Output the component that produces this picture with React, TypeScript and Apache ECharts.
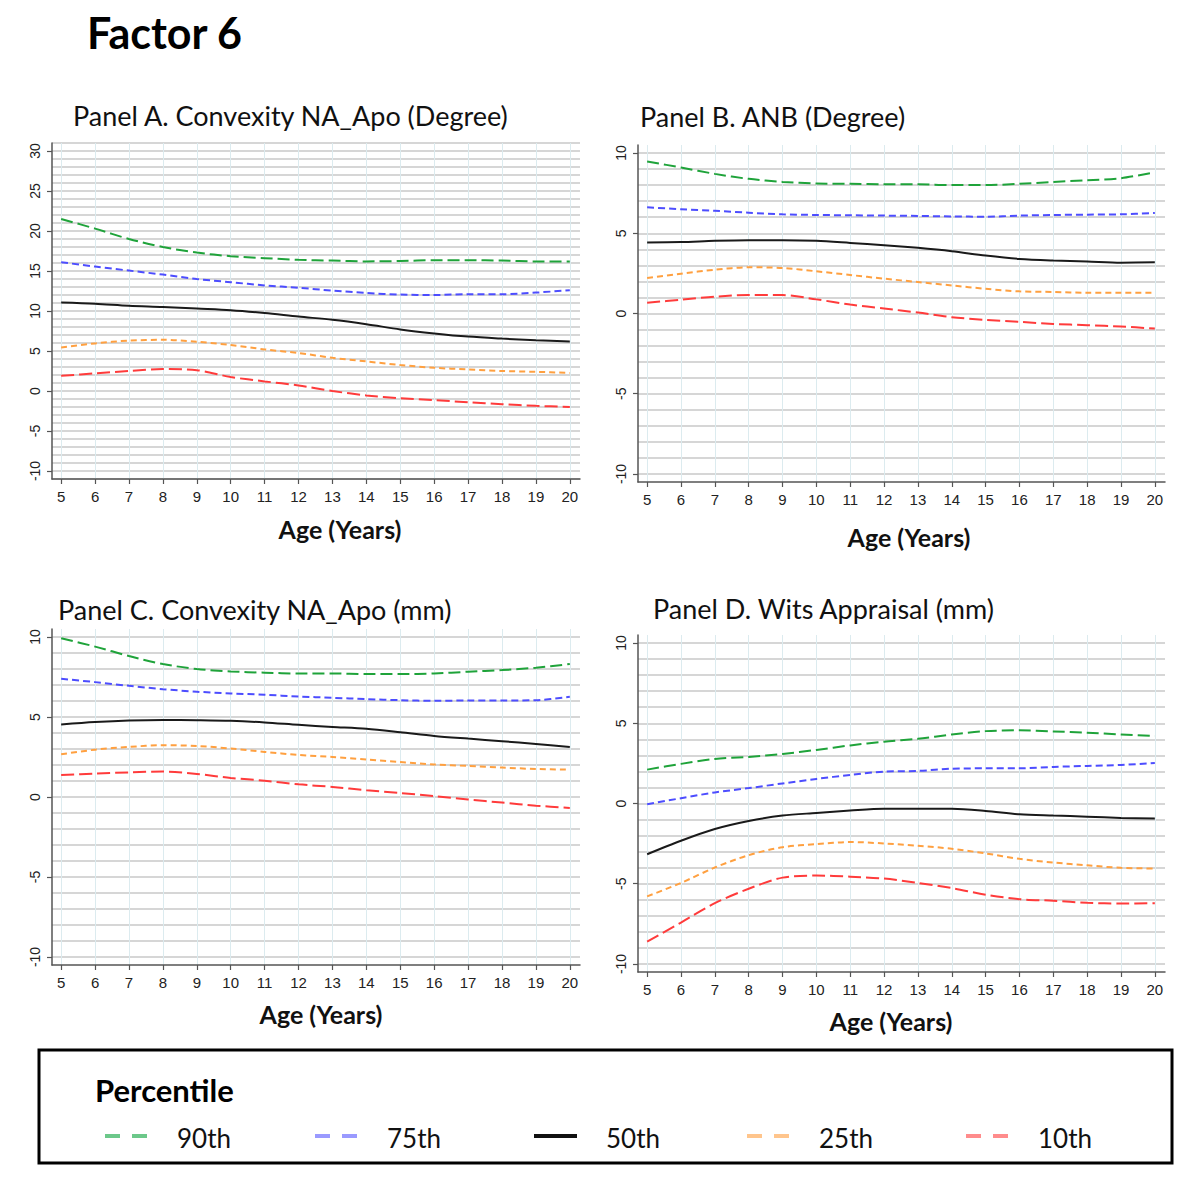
import React, { useEffect, useRef } from 'react';
import * as echarts from 'echarts';

// ---------- data ----------
const ages = [5, 6, 7, 8, 9, 10, 11, 12, 13, 14, 15, 16, 17, 18, 19, 20];
const percentiles = ['90th', '75th', '50th', '25th', '10th'];

// Panel A. Convexity NA_Apo (Degree)
const panelA_p90 = [21.5, 20.3, 19.0, 18.0, 17.3, 16.85, 16.6, 16.4, 16.3, 16.2, 16.25, 16.35, 16.35, 16.3, 16.2, 16.2];
const panelA_p75 = [16.1, 15.55, 15.05, 14.55, 14.0, 13.6, 13.2, 12.9, 12.55, 12.25, 12.05, 12.0, 12.1, 12.1, 12.3, 12.6];
const panelA_p50 = [11.05, 10.9, 10.65, 10.5, 10.3, 10.1, 9.75, 9.3, 8.9, 8.35, 7.7, 7.2, 6.8, 6.55, 6.35, 6.2];
const panelA_p25 = [5.45, 5.95, 6.3, 6.4, 6.15, 5.75, 5.2, 4.75, 4.15, 3.7, 3.25, 2.9, 2.7, 2.5, 2.4, 2.25];
const panelA_p10 = [1.9, 2.2, 2.5, 2.75, 2.6, 1.75, 1.2, 0.7, 0.0, -0.55, -0.9, -1.15, -1.4, -1.65, -1.85, -2.0];

// Panel B. ANB (Degree)
const panelB_p90 = [9.47, 9.1, 8.7, 8.39, 8.2, 8.1, 8.08, 8.06, 8.06, 8.0, 8.0, 8.08, 8.2, 8.3, 8.43, 8.8];
const panelB_p75 = [6.62, 6.5, 6.4, 6.28, 6.18, 6.14, 6.12, 6.1, 6.08, 6.05, 6.03, 6.1, 6.14, 6.16, 6.18, 6.26];
const panelB_p50 = [4.43, 4.45, 4.53, 4.57, 4.57, 4.53, 4.4, 4.26, 4.09, 3.88, 3.61, 3.4, 3.3, 3.24, 3.17, 3.19];
const panelB_p25 = [2.21, 2.48, 2.73, 2.88, 2.84, 2.63, 2.4, 2.17, 1.96, 1.75, 1.54, 1.38, 1.34, 1.29, 1.29, 1.29];
const panelB_p10 = [0.67, 0.86, 1.05, 1.15, 1.15, 0.88, 0.56, 0.31, 0.06, -0.23, -0.4, -0.52, -0.65, -0.73, -0.81, -0.94];

// Panel C. Convexity NA_Apo (mm)
const panelC_p90 = [9.92, 9.4, 8.81, 8.31, 8.0, 7.85, 7.77, 7.72, 7.72, 7.68, 7.68, 7.72, 7.83, 7.93, 8.08, 8.31];
const panelC_p75 = [7.39, 7.18, 6.95, 6.74, 6.58, 6.47, 6.39, 6.28, 6.2, 6.12, 6.05, 6.01, 6.03, 6.03, 6.05, 6.26];
const panelC_p50 = [4.53, 4.68, 4.78, 4.82, 4.8, 4.76, 4.66, 4.51, 4.38, 4.26, 4.05, 3.82, 3.65, 3.49, 3.32, 3.13];
const panelC_p25 = [2.67, 2.96, 3.13, 3.24, 3.19, 3.03, 2.82, 2.63, 2.5, 2.34, 2.19, 2.03, 1.94, 1.84, 1.75, 1.71];
const panelC_p10 = [1.38, 1.46, 1.54, 1.59, 1.44, 1.19, 1.02, 0.79, 0.63, 0.42, 0.25, 0.06, -0.15, -0.35, -0.54, -0.69];

// Panel D. Wits Appraisal (mm)
const panelD_p90 = [2.11, 2.47, 2.78, 2.9, 3.09, 3.34, 3.62, 3.85, 4.03, 4.3, 4.51, 4.56, 4.49, 4.41, 4.3, 4.2];
const panelD_p75 = [-0.04, 0.33, 0.69, 0.96, 1.25, 1.53, 1.78, 1.99, 2.03, 2.17, 2.19, 2.19, 2.28, 2.34, 2.4, 2.53];
const panelD_p50 = [-3.16, -2.32, -1.59, -1.09, -0.75, -0.59, -0.44, -0.33, -0.33, -0.33, -0.46, -0.67, -0.75, -0.82, -0.9, -0.94];
const panelD_p25 = [-5.79, -4.95, -3.99, -3.22, -2.72, -2.53, -2.4, -2.49, -2.63, -2.82, -3.11, -3.45, -3.68, -3.85, -4.01, -4.05];
const panelD_p10 = [-8.61, -7.42, -6.21, -5.31, -4.62, -4.49, -4.56, -4.68, -4.95, -5.27, -5.68, -5.96, -6.06, -6.19, -6.23, -6.21];

const yTickLabelsA = [-10, -5, 0, 5, 10, 15, 20, 25, 30];
const yTickLabelsBCD = [-10, -5, 0, 5, 10];

const panelTitles = [
  'Panel A. Convexity NA_Apo (Degree)',
  'Panel B. ANB (Degree)',
  'Panel C. Convexity NA_Apo (mm)',
  'Panel D. Wits Appraisal (mm)',
];
const xAxisTitle = 'Age (Years)';
const mainTitle = 'Factor 6';
const legendTitle = 'Percentile';

// ---------- layout & style ----------
const lineColors = ['#1fa33a', '#4d4dff', '#1a1a1a', '#ffa040', '#ff3b3b'];
const lineDash: any[] = [[12, 5], [7, 4], 'solid', [6, 4], [13, 5]];
const legendColors = ['#6cc88a', '#9a9aff', '#111111', '#ffc58c', '#ff8c8c'];
const legendLeft = [105, 315, 534, 747, 966];

const panelLayout = [
  { grid: { left: 52, top: 143, width: 528, height: 336 }, yMin: -11, yMax: 31, title: [73, 115], name: [340, 529] },
  { grid: { left: 638, top: 145, width: 527, height: 337 }, yMin: -10.5, yMax: 10.5, title: [640, 116], name: [909, 537] },
  { grid: { left: 52, top: 629, width: 528, height: 336 }, yMin: -10.5, yMax: 10.5, title: [58, 609], name: [321, 1014] },
  { grid: { left: 638, top: 635, width: 527, height: 337 }, yMin: -10.5, yMax: 10.5, title: [653, 608], name: [891, 1021] },
];

const panelData = [
  [panelA_p90, panelA_p75, panelA_p50, panelA_p25, panelA_p10],
  [panelB_p90, panelB_p75, panelB_p50, panelB_p25, panelB_p10],
  [panelC_p90, panelC_p75, panelC_p50, panelC_p25, panelC_p10],
  [panelD_p90, panelD_p75, panelD_p50, panelD_p25, panelD_p10],
];
const panelYLabels = [yTickLabelsA, yTickLabelsBCD, yTickLabelsBCD, yTickLabelsBCD];

const X_MIN = 4.73;
const X_MAX = 20.3;
const TITLE_FONT = 'Lato, "Open Sans", sans-serif';
const TICK_FONT = '"Liberation Sans", Arial, sans-serif';

function intsBetween(a: number, b: number) {
  const out: number[] = [];
  for (let v = Math.ceil(a); v <= Math.floor(b); v++) out.push(v);
  return out;
}

function buildOption() {
  const grid: any[] = [];
  const xAxis: any[] = [];
  const yAxis: any[] = [];
  const series: any[] = [];
  const graphic: any[] = [];

  panelLayout.forEach((p, i) => {
    grid.push({ ...p.grid, containLabel: false, outerBoundsMode: 'none' });
    xAxis.push({
      type: 'value',
      gridIndex: i,
      min: X_MIN,
      max: X_MAX,
      axisLine: { show: true, onZero: false, lineStyle: { color: '#555', width: 1.5 } },
      axisTick: { show: true, length: 5, customValues: ages, lineStyle: { color: '#555', width: 1.2 } },
      axisLabel: { customValues: ages, margin: 10, fontSize: 15, fontFamily: TICK_FONT, color: '#222' },
      splitLine: { show: true, customValues: ages, lineStyle: { color: '#dcebef', width: 1 } },
    });
    const gridInts = intsBetween(p.yMin, p.yMax);
    yAxis.push({
      type: 'value',
      gridIndex: i,
      position: 'left',
      min: p.yMin,
      max: p.yMax,
      axisLine: { show: true, onZero: false, lineStyle: { color: '#555', width: 1.5 } },
      axisTick: { show: false, customValues: gridInts },
      axisLabel: {
        customValues: panelYLabels[i],
        rotate: 90,
        margin: 10,
        fontSize: 14,
        fontFamily: TICK_FONT,
        color: '#222',
      },
      splitLine: { show: true, customValues: gridInts, lineStyle: { color: '#c8c8c8', width: 1.5 } },
    });
    yAxis.push({
      type: 'value',
      gridIndex: i,
      position: 'left',
      min: p.yMin,
      max: p.yMax,
      axisLine: { show: false, onZero: false },
      axisTick: { show: true, length: 5, customValues: panelYLabels[i], lineStyle: { color: '#555', width: 1.2 } },
      axisLabel: { show: false },
      splitLine: { show: false },
    });

    panelData[i].forEach((vals, j) => {
      series.push({
        type: 'line',
        name: percentiles[j],
        xAxisIndex: i,
        yAxisIndex: 2 * i,
        data: ages.map((a, k) => [a, vals[k]]),
        symbol: 'none',
        smooth: 0.3,
        z: 3,
        lineStyle: { color: lineColors[j], width: 2, type: lineDash[j] },
        itemStyle: { color: lineColors[j] },
      });
    });

    graphic.push({
      type: 'text',
      x: p.title[0],
      y: p.title[1],
      style: {
        text: panelTitles[i],
        font: `400 27px ${TITLE_FONT}`,
        fill: '#111',
        textAlign: 'left',
        textVerticalAlign: 'middle',
      },
    });
    graphic.push({
      type: 'text',
      x: p.name[0],
      y: p.name[1],
      style: {
        text: xAxisTitle,
        font: `700 25px ${TITLE_FONT}`,
        fill: '#111',
        textAlign: 'center',
        textVerticalAlign: 'middle',
      },
    });
  });

  graphic.push({
    type: 'text',
    x: 87,
    y: 32,
    style: { text: mainTitle, font: `700 43px ${TITLE_FONT}`, fill: '#000', textAlign: 'left', textVerticalAlign: 'middle' },
  });
  graphic.push({
    type: 'rect',
    shape: { x: 39, y: 1050, width: 1133, height: 113 },
    style: { fill: 'none', stroke: '#000', lineWidth: 3 },
  });
  graphic.push({
    type: 'text',
    x: 95,
    y: 1090,
    style: { text: legendTitle, font: `700 31px ${TITLE_FONT}`, fill: '#000', textAlign: 'left', textVerticalAlign: 'middle' },
  });

  // legend keys
  percentiles.forEach((name, j) => {
    graphic.push({
      type: 'line',
      shape: { x1: legendLeft[j], y1: 1136, x2: legendLeft[j] + 43, y2: 1136 },
      style: {
        stroke: legendColors[j],
        lineWidth: 4,
        lineDash: j === 2 ? null : [15, 12],
      },
    });
    graphic.push({
      type: 'text',
      x: legendLeft[j] + 72,
      y: 1138,
      style: {
        text: name,
        font: `400 26px ${TITLE_FONT}`,
        fill: '#111',
        textAlign: 'left',
        textVerticalAlign: 'middle',
      },
    });
  });

  return {
    animation: false,
    backgroundColor: '#ffffff',
    grid,
    xAxis,
    yAxis,
    series,
    graphic,
  };
}

export default function App() {
  const ref = useRef<HTMLDivElement>(null);
  useEffect(() => {
    if (!ref.current) return;
    const chart = echarts.init(ref.current, undefined, { renderer: 'svg' });
    chart.setOption(buildOption() as any);
    return () => chart.dispose();
  }, []);
  return (
    <div
      ref={ref}
      style={{ position: 'absolute', left: 0, top: 0, width: 1190, height: 1177, background: '#fff' }}
    />
  );
}
